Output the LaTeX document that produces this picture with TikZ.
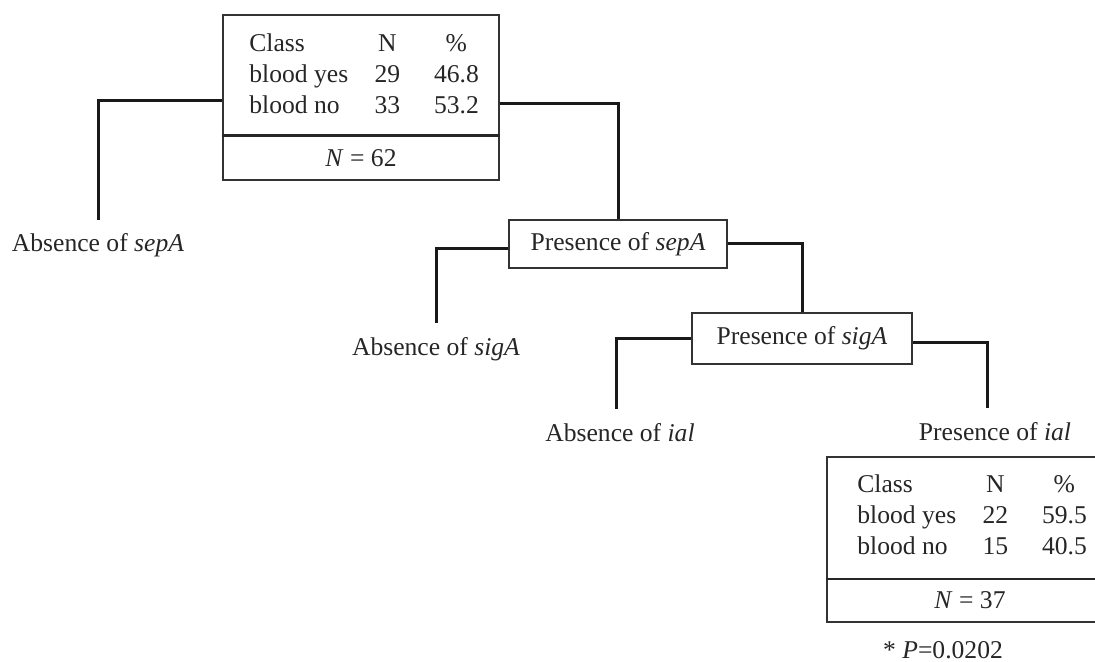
\documentclass[tikz,border=0pt]{standalone}
\usepackage{fontspec}
\setmainfont{Liberation Serif}
\usepackage{tikz}

\newcommand{\tallyrows}[4]{%
\makebox[59pt][l]{Class}\makebox[20pt]{N}\makebox[49pt]{\%}\\
\makebox[59pt][l]{blood yes}\makebox[20pt]{#1}\makebox[49pt]{#2}\\
\makebox[59pt][l]{blood no}\makebox[20pt]{#3}\makebox[49pt]{#4}}

\begin{document}
\begin{tikzpicture}[x=0.5pt,y=-0.5pt,font=\fontsize{12.8}{15.5}\selectfont,text=black!85,
  tallybox/.style={rectangle,draw=black!80,line width=1pt,minimum width=138pt,minimum height=82.5pt,inner sep=0pt},
  testbox/.style={rectangle,draw=black!80,line width=1pt,minimum width=109pt,minimum height=24pt,inner sep=0pt},
  leaf/.style={anchor=base,inner xsep=0pt,inner ysep=7pt},
  rows/.style={anchor=west,align=left,inner sep=0pt},
  branch/.style={draw=black!90,line width=1.5pt},
  divider/.style={draw=black!85,line width=1.3pt}]
\clip (0,0) rectangle (1095,662);
\node[tallybox] (root) at (360.7,97.3) {};
\node[rows] (roottab) at (249,74) {\tallyrows{29}{46.8}{33}{53.2}};
\node (rootn) at (361,158) {\textit{N} = 62};
\node[testbox] (sepA) at (618,244) {Presence of \textit{sepA}};
\node[testbox,minimum width=110pt,minimum height=25.5pt] (sigA) at (802,338.5) {Presence of \textit{sigA}};
\node[leaf] (nosepA) at (98,252) {Absence of \textit{sepA}};
\node[leaf] (nosigA) at (436,355) {Absence of \textit{sigA}};
\node[leaf] (noial) at (620,441) {Absence of \textit{ial}};
\node[leaf] (ial) at (995,440) {Presence of \textit{ial}};
\node[tallybox] (ialbox) at (965,539.5) {};
\node[rows] (ialtab) at (857,515) {\tallyrows{22}{59.5}{15}{40.5}};
\node (ialn) at (970,600) {\textit{N} = 37};
\node (pval) at (943,650) {* \textit{P}=0.0202};
\draw[divider] ([yshift=22.5pt]root.south west) -- ([yshift=22.5pt]root.south east);
\draw[divider] ([yshift=22pt]ialbox.south west) -- ([yshift=22pt]ialbox.south east);
\draw[branch] ([yshift=-1.4pt]root.west) -| (nosepA.north);
\draw[branch] ([yshift=-3.3pt]root.east) -| (sepA.north);
\draw[branch] ([yshift=-2.5pt]sepA.west) -| (nosigA.north);
\draw[branch] (sepA.east) -| (sigA.north);
\draw[branch] (sigA.west) -| ([xshift=-2pt]noial.north);
\draw[branch] ([yshift=-1.8pt]sigA.east) -| ([xshift=-4pt]ial.north);
\end{tikzpicture}
\end{document}
